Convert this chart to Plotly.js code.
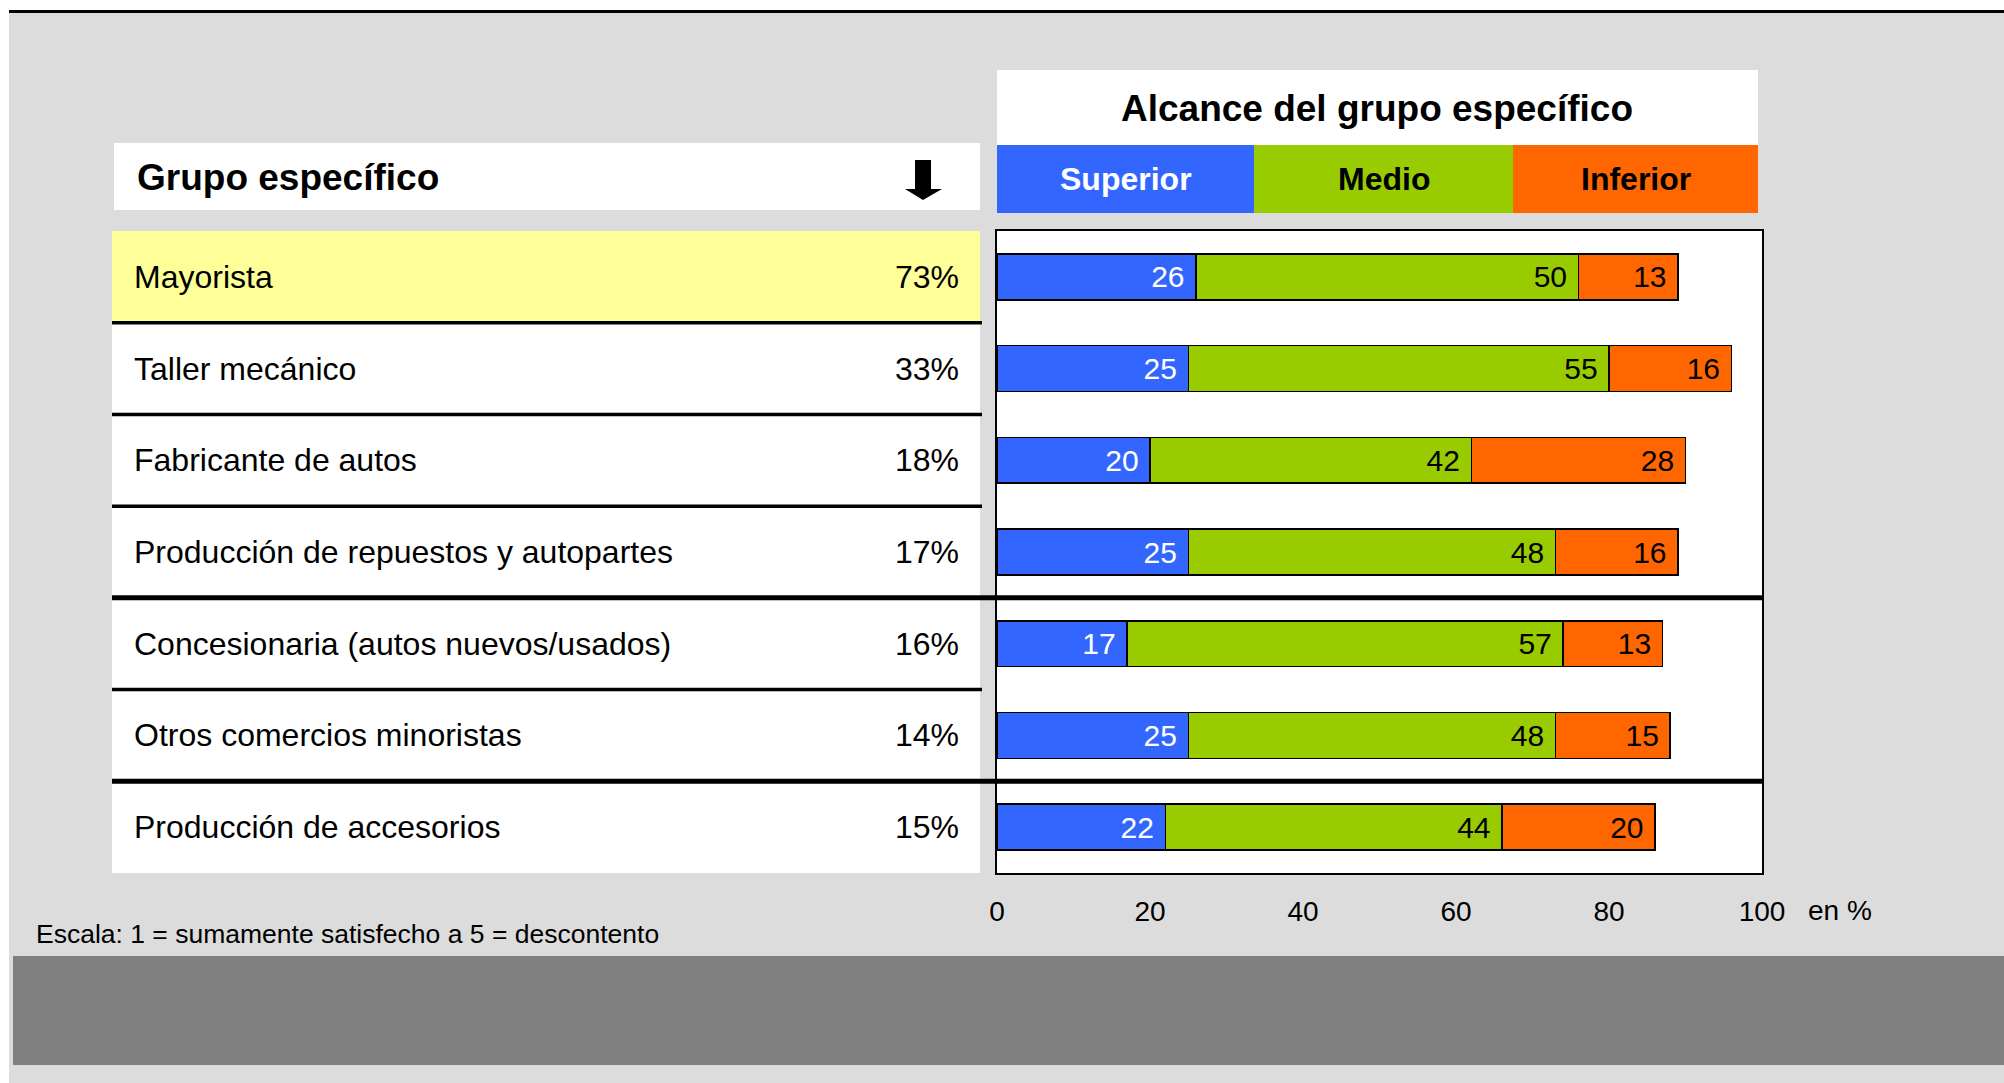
<!DOCTYPE html>
<html><head><meta charset="utf-8">
<script src="https://cdn.plot.ly/plotly-3.0.1.min.js"></script>
<style>html,body{margin:0;padding:0;background:#fff;}#chart{width:2004px;height:1083px;}</style>
</head><body><div id="chart"></div>
<script>
// ---- data ----
const categories = ['Mayorista','Taller mecánico','Fabricante de autos','Producción de repuestos y autopartes','Concesionaria (autos nuevos/usados)','Otros comercios minoristas','Producción de accesorios'];
const shares = ['73%','33%','18%','17%','16%','14%','15%'];
const rowGroups = [1,1,1,1,2,2,3];
const highlighted = 'Mayorista';
const seriesNames = ['Superior','Medio','Inferior'];
const superior = [26,25,20,25,17,25,22];
const medio = [50,55,42,48,57,48,44];
const inferior = [13,16,28,16,13,15,20];
const xTicks = [0,20,40,60,80,100];
const leftTitle = 'Grupo específico';
const rightTitle = 'Alcance del grupo específico';
const unitLabel = 'en %';
const note = 'Escala: 1 = sumamente satisfecho a 5 = descontento';

// ---- styles / geometry ----
const W = 2004, H = 1083;
const X = p => p / W;
const Y = p => 1 - p / H;
const FONT = 'Liberation Sans, Arial, sans-serif';
const colors = ['#3366ff', '#99cc00', '#ff6600'];
const labelColors = ['#ffffff', '#000000', '#000000'];
const headerLabelColors = ['#ffffff', '#000000', '#000000'];
const cellEdges = [997, 1254, 1513, 1758];

const seriesValues = [superior, medio, inferior];
const traces = seriesValues.map((vals, k) => ({
  type: 'bar',
  orientation: 'h',
  name: seriesNames[k],
  y: categories,
  x: vals,
  text: vals.map(String),
  texttemplate: '%{text}\u00a0',
  textposition: 'inside',
  insidetextanchor: 'end',
  constraintext: 'none',
  textangle: 0,
  textfont: {family: FONT, size: 30, color: labelColors[k]},
  marker: {color: colors[k], line: {color: '#000000', width: 1.5}},
  hovertemplate: '%{y}<br>' + seriesNames[k] + ': %{x}<extra></extra>'
}));

const rect = (x0, y0, x1, y1, fill, extra) => Object.assign({
  type: 'rect', xref: 'paper', yref: 'paper',
  x0: X(x0), x1: X(x1), y0: Y(y1), y1: Y(y0),
  fillcolor: fill, line: {width: 0}, layer: 'below'
}, extra || {});

const shapes = [
  rect(0, 0, W, 10, '#ffffff'),
  rect(0, 0, 9, H, '#ffffff'),
  rect(9, 10, W, 13, '#000000', {layer: 'above'}),
  rect(13, 956, W, 1065, '#808080'),
  rect(114, 143, 980, 210, '#ffffff'),
  rect(997, 70, 1758, 145, '#ffffff')
];
for (let k = 0; k < 3; k++) {
  shapes.push(rect(cellEdges[k], 145, cellEdges[k + 1], 213, colors[k]));
}
// down arrow in left header
const ap = [[915,160],[931,160],[931,189],[942,189],[923,200],[905,189],[915,189]];
shapes.push({
  type: 'path', xref: 'paper', yref: 'paper',
  path: 'M' + ap.map(p => X(p[0]) + ',' + Y(p[1])).join(' L') + ' Z',
  fillcolor: '#000000', line: {width: 0}, layer: 'above'
});
// table row backgrounds
categories.forEach((c, i) => {
  shapes.push({
    type: 'rect', xref: 'paper', yref: 'y',
    x0: X(112), x1: X(980), y0: i - 0.5, y1: i + 0.5,
    fillcolor: c === highlighted ? '#ffff99' : '#ffffff',
    line: {width: 0}, layer: 'below'
  });
});
// separators
for (let i = 0; i < categories.length - 1; i++) {
  const thick = rowGroups[i] !== rowGroups[i + 1];
  shapes.push({
    type: 'line', xref: 'paper', yref: 'y',
    x0: X(112), x1: X(thick ? 1763 : 982), y0: i + 0.5, y1: i + 0.5,
    line: {color: '#000000', width: thick ? 5 : 3.5}, layer: 'above'
  });
}

const ann = (text, x, y, opts) => Object.assign({
  text: text, x: x, y: y, xref: 'paper', yref: 'paper',
  showarrow: false, xanchor: 'left', yanchor: 'middle',
  font: {family: FONT, size: 32, color: '#000000'}
}, opts || {});

const annotations = [
  ann(leftTitle, X(135), Y(177), {font: {family: FONT, size: 37, color: '#000', weight: 700}}),
  ann(rightTitle, X(1377), Y(108), {xanchor: 'center', font: {family: FONT, size: 37, color: '#000', weight: 700}}),
  ann(unitLabel, X(1806), Y(910), {font: {family: FONT, size: 28, color: '#000'}}),
  ann(note, X(34), Y(934), {font: {family: FONT, size: 26.5, color: '#000'}})
];
seriesNames.forEach((s, k) => {
  annotations.push(ann(s, X((cellEdges[k] + cellEdges[k + 1]) / 2), Y(179), {
    xanchor: 'center', font: {family: FONT, size: 32, color: headerLabelColors[k], weight: 700}
  }));
});
categories.forEach((c, i) => {
  annotations.push(ann(c, X(132), c, {yref: 'y'}));
  annotations.push(ann(shares[i], X(961), c, {yref: 'y', xanchor: 'right'}));
});

const layout = {
  width: W, height: H,
  margin: {l: 0, r: 0, t: 0, b: 0, pad: 0},
  paper_bgcolor: '#dcdcdc',
  plot_bgcolor: '#ffffff',
  showlegend: false,
  barmode: 'stack',
  bargap: 0.5,
  font: {family: FONT, size: 28, color: '#000'},
  xaxis: {
    domain: [X(997), X(1762)],
    range: [0, 100],
    tickmode: 'array', tickvals: xTicks, ticktext: xTicks.map(String),
    showgrid: false, zeroline: false,
    showline: true, mirror: true, linecolor: '#000', linewidth: 2,
    ticks: '', ticklabelstandoff: 12,
    tickfont: {family: FONT, size: 28, color: '#000'},
    fixedrange: true
  },
  yaxis: {
    domain: [Y(873), Y(231)],
    type: 'category', categoryorder: 'array', categoryarray: categories,
    autorange: 'reversed',
    showticklabels: false, showgrid: false, zeroline: false,
    showline: true, mirror: true, linecolor: '#000', linewidth: 2,
    ticks: '', fixedrange: true
  },
  shapes: shapes,
  annotations: annotations
};

Plotly.newPlot('chart', traces, layout, {displayModeBar: false, responsive: false});
</script>
</body></html>
